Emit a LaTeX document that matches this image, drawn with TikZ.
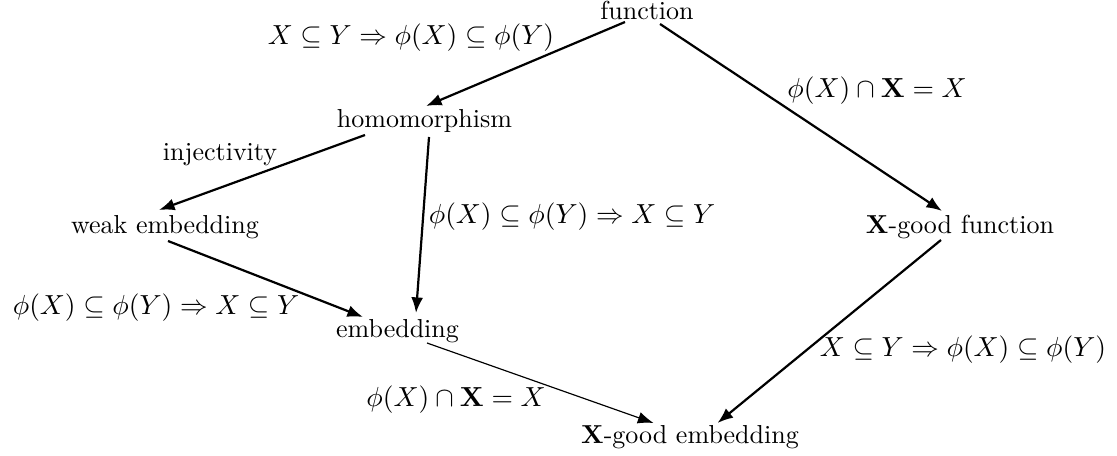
\documentclass[tikz,border=0pt]{standalone}
\usepackage{graphicx}
\usepackage{amsmath,amssymb}
\usetikzlibrary{arrows.meta,calc}
\newcommand{\lblmath}[1]{\scalebox{1.06}{$#1$}}
\begin{document}
\begin{tikzpicture}[x=0.3846pt,y=-0.3846pt,
  txt/.style={inner sep=0pt,anchor=base},
  lbl/.style={inner sep=0pt},
  arr/.style={-{Latex[length=6pt,width=4.6pt]},line width=0.85pt},
  tarr/.style={-{Latex[length=6pt,width=4.6pt]},line width=0.45pt}]
\useasboundingbox (0,0) rectangle (1117,456);
% nodes
\node[txt] (F) at (647,20) {function};
\node[txt] (H) at (424.5,128) {homomorphism};
\node[txt] (W) at (165,233) {weak embedding};
\node[txt] (XF) at (960,233) {$\mathbf{X}$-good function};
\node[txt] (E) at (397.5,337) {embedding};
\node[txt] (G) at (690,443) {$\mathbf{X}$-good embedding};
% labels
\node[lbl] (l1) at (411,38) {\lblmath{X \subseteq Y \Rightarrow \phi(X) \subseteq \phi(Y)}};
\node[lbl] (l2) at (877,91) {\lblmath{\phi(X) \cap \mathbf{X} = X}};
\node[lbl] (l3) at (220,155) {injectivity};
\node[lbl] (l4) at (572,217) {\lblmath{\phi(X) \subseteq \phi(Y) \Rightarrow X \subseteq Y}};
\node[lbl] (l5) at (156,308) {\lblmath{\phi(X) \subseteq \phi(Y) \Rightarrow X \subseteq Y}};
\node[lbl] (l6) at (963,350) {\lblmath{X \subseteq Y \Rightarrow \phi(X) \subseteq \phi(Y)}};
\node[lbl] (l7) at (456,400) {\lblmath{\phi(X) \cap \mathbf{X} = X}};
% connectors
\draw[arr] ($(F.base)+(-22,2)$) -- ($(H.base)+(1.5,-22)$);
\draw[arr] ($(F.base)+(13,4)$) -- ($(XF.base)+(-18,-22)$);
\draw[arr] ($(H.base)+(-59.5,7)$) -- ($(W.base)+(-6,-23)$);
\draw[arr] ($(H.base)+(4.5,9)$) -- ($(E.base)+(18.5,-24)$);
\draw[arr] ($(W.base)+(3,8)$) -- ($(E.base)+(-34.5,-20)$);
\draw[tarr] ($(E.base)+(29.5,6)$) -- ($(G.base)+(-36.5,-20)$);
\draw[arr] ($(XF.base)+(-19,7)$) -- ($(G.base)+(27.5,-20)$);
\end{tikzpicture}
\end{document}
